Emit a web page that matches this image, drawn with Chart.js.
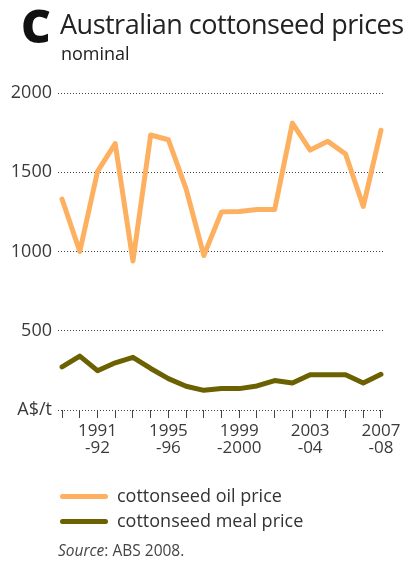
<!DOCTYPE html>
<html>
<head>
<meta charset="utf-8">
<script src="https://cdn.jsdelivr.net/npm/chart.js@4"></script>
<style>
  html, body { margin: 0; padding: 0; background: #fff; }
  body { width: 411px; height: 563px; position: relative; overflow: hidden; font-family: 'Open Sans', sans-serif; color: #333; }
  #wrap { position: absolute; left: 0; top: 0; width: 411px; height: 563px; }
  .abs { position: absolute; white-space: nowrap; }
  #letter { left: 21px; top: -6px; font-size: 46px; font-weight: 800; color: #111; }
  #title { left: 60px; top: 5px; font-size: 27px; letter-spacing: -0.5px; color: #222; }
  #sub { left: 61px; top: 41px; font-size: 18px; color: #222; }
  .leg { left: 60px; font-size: 18px; color: #333; }
  .leg i { display: inline-block; width: 48px; height: 5px; border-radius: 3px; vertical-align: middle; margin-right: 9px; position: relative; top: -1px; }
  #src { left: 58px; top: 539px; font-size: 15.5px; color: #444; }
</style>
</head>
<body>
<div id="wrap"><canvas id="chart" width="411" height="563"></canvas></div>
<div class="abs" id="letter">C</div>
<div class="abs" id="title">Australian cottonseed prices</div>
<div class="abs" id="sub">nominal</div>
<div class="abs leg" style="top:483px"><i style="background:#FDB060"></i>cottonseed oil price</div>
<div class="abs leg" style="top:508px"><i style="background:#6B6100"></i>cottonseed meal price</div>
<div class="abs" id="src"><em>Source</em>: ABS 2008.</div>
<script>
const YEARS = ['1989-90','1990-91','1991-92','1992-93','1993-94','1994-95','1995-96','1996-97','1997-98','1998-99',
               '1999-2000','2000-01','2001-02','2002-03','2003-04','2004-05','2005-06','2006-07','2007-08'];
const OIL_PRICE  = [1330, 1000, 1505, 1680, 940, 1735, 1705, 1395, 975, 1250, 1252, 1265, 1265, 1810, 1640, 1695, 1615, 1285, 1765];
const MEAL_PRICE = [272, 340, 248, 298, 332, 262, 198, 150, 124, 135, 135, 152, 186, 170, 222, 222, 222, 170, 225];
// x labels shown under every 4th year
const TICK_LABELS = { 2: ['1991', '-92'], 6: ['1995', '-96'], 10: ['1999', '-2000'], 14: ['2003', '-04'], 18: ['2007', '-08'] };
const Y_TICKS = [0, 500, 1000, 1500, 2000];

const OIL_COLOR = '#FDB060';
const MEAL_COLOR = '#6B6100';

const pts = arr => arr.map((v, i) => ({ x: i, y: v }));

new Chart(document.getElementById('chart'), {
    type: 'line',
    data: {
        datasets: [
            { label: 'cottonseed oil price', data: pts(OIL_PRICE), borderColor: OIL_COLOR, borderWidth: 5, pointRadius: 0, borderJoinStyle: 'round', borderCapStyle: 'round' },
            { label: 'cottonseed meal price', data: pts(MEAL_PRICE), borderColor: MEAL_COLOR, borderWidth: 5, pointRadius: 0, borderJoinStyle: 'round', borderCapStyle: 'round' }
        ]
    },
    options: {
        responsive: false,
        animation: false,
        events: [],
        layout: { padding: { top: 93, right: 27, bottom: 93, left: 0 } },
        plugins: { legend: { display: false }, tooltip: { enabled: false } },
        scales: {
            x: {
                type: 'linear',
                min: -0.23,
                max: 18.17,
                afterBuildTicks: s => { s.ticks = YEARS.map((_, i) => ({ value: i })); },
                afterFit: s => { s.height = 60; },
                border: { display: false },
                grid: { drawOnChartArea: false, drawTicks: true, tickLength: 8, color: '#444', lineWidth: 1 },
                ticks: {
                    autoSkip: false,
                    maxRotation: 0,
                    padding: 5,
                    color: '#3a3a3a',
                    font: { family: "'Open Sans', sans-serif", size: 17, lineHeight: 1.0 },
                    callback: v => TICK_LABELS[v] || ''
                }
            },
            y: {
                min: 0,
                max: 2000,
                afterBuildTicks: s => { s.ticks = Y_TICKS.map(v => ({ value: v })); },
                afterFit: s => { s.width = 58; },
                border: { display: false, dash: [1, 2] },
                grid: { drawTicks: false, color: '#444', lineWidth: 1 },
                ticks: {
                    padding: 6,
                    color: '#3a3a3a',
                    font: { family: "'Open Sans', sans-serif", size: 18 },
                    callback: v => v === 0 ? 'A$/t' : String(v)
                }
            }
        }
    }
});
</script>
</body>
</html>
